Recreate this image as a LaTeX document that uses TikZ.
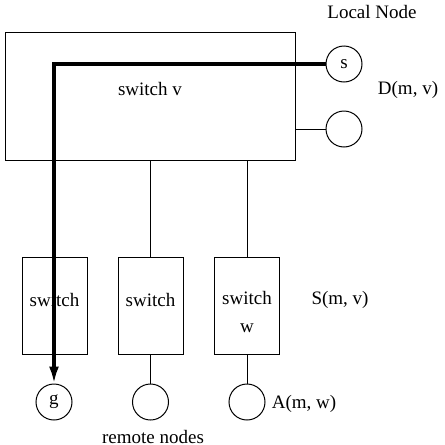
\documentclass[tikz,border=0pt]{standalone}
\usepackage{fontspec}
\setmainfont{Liberation Serif}
\usetikzlibrary{arrows.meta, positioning}
\tikzset{
  bigswitch/.style={rectangle, draw=black, line width=0.5pt, minimum width=145pt, minimum height=64pt, inner sep=0pt},
  smallswitch/.style={rectangle, draw=black, line width=0.5pt, minimum width=32.5pt, minimum height=48.5pt, inner sep=0pt},
  host/.style={circle, draw=black, line width=0.5pt, minimum size=18pt, inner sep=0pt},
  txt/.style={inner sep=0pt, align=center},
  link/.style={line width=0.5pt},
  route/.style={line width=1.6pt, -{Latex[length=8.5pt,width=5pt]}}
}

\begin{document}
\begin{tikzpicture}[x=0.5pt, y=-0.5pt, font=\fontsize{9.5}{12}\selectfont]
\useasboundingbox (0,0) rectangle (445,445);

% local switch and its nodes
\node (vbox) [bigswitch] at (150,96) {};
\node (vtext) [txt] at (150,89) {switch v};
\node (s) [host] at (344,64) {s};
\node (d2) [host] at (344,129) {};
\node (local) [txt] at (372,12) {Local Node};
\node (dmv) [txt] at (408,90) {D(m, v)};

% remote switches
\node (sw1) [smallswitch] at (54.5,305.5) {};
\node (sw2) [smallswitch] at (150.5,305.5) {};
\node (sw3) [smallswitch] at (247,305.5) {};
\node (sw1t) [txt] at (54.5,300) {switch};
\node (sw2t) [txt] at (150.5,300) {switch};
\node (sw3t) [txt] at (247,312) {switch\\[2pt]w};
\node (smv) [txt] at (340,300) {S(m, v)};

% remote nodes
\node (g) [host] at (54,402) {g};
\node (r2) [host] at (150.5,402) {};
\node (r3) [host] at (247,402) {};
\node (amw) [txt] at (304,404) {A(m, w)};
\node (remote) [txt] at (153,437) {remote nodes};

\draw [link] (d2.west) -- (d2.west -| vbox.east);
\draw [link] (sw2.north |- vbox.south) -- (sw2.north);
\draw [link] (sw3.north |- vbox.south) -- (sw3.north);
\draw [link] (sw2.south) -- (r2.north);
\draw [link] (sw3.south) -- (r3.north);

% path from s to g
\draw [route] (s.west) -| (g.north);

\end{tikzpicture}
\end{document}
